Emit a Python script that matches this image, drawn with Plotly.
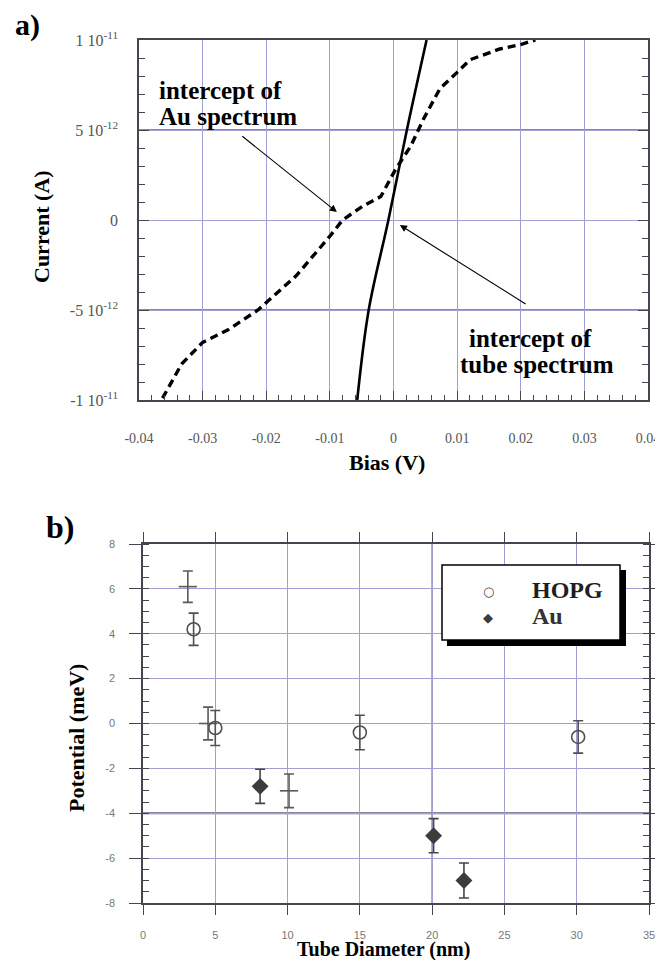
import plotly.graph_objects as go

# ---------------- Panel a data ----------------
tube_bias = [-0.0057, -0.0039, -0.0008, 0.0021, 0.0052]
tube_current = [-1.0e-11, -5.0e-12, 0.0, 5.0e-12, 1.0e-11]

au_bias = [-0.0363, -0.0333, -0.0300, -0.0260, -0.0213, -0.0153, -0.0100, -0.0080,
           -0.0047, -0.0020, 0.0003, 0.0027, 0.0047, 0.0073, 0.0100, 0.0120,
           0.0167, 0.0200, 0.0223]
au_current = [-9.9e-12, -8.0e-12, -6.8e-12, -6.1e-12, -5.0e-12, -3.1e-12, -0.9e-12, 0.0,
              0.8e-12, 1.3e-12, 2.8e-12, 4.1e-12, 5.6e-12, 7.3e-12, 8.2e-12, 8.9e-12,
              9.5e-12, 9.75e-12, 1.0e-11]

a_xticks = [-0.04, -0.03, -0.02, -0.01, 0, 0.01, 0.02, 0.03, 0.04]
a_xticktext = ["-0.04", "-0.03", "-0.02", "-0.01", "0", "0.01", "0.02", "0.03", "0.04"]
a_yticks = [-1e-11, -5e-12, 0, 5e-12, 1e-11]
a_yticktext = ["-1 10<sup>-11</sup>", "-5 10<sup>-12</sup>", "0", "5 10<sup>-12</sup>", "1 10<sup>-11</sup>"]

# ---------------- Panel b data ----------------
hopg_diam = [3.5, 5.0, 15.0, 30.1]
hopg_pot = [4.2, -0.2, -0.4, -0.6]
hopg_err = [0.72, 0.78, 0.77, 0.72]

au_diam = [8.1, 20.1, 22.2]
au_pot = [-2.8, -5.0, -7.0]
au_err = [0.76, 0.76, 0.78]

other_diam = [3.1, 4.5, 10.1]
other_pot = [6.1, 0.0, -3.0]
other_err = [0.70, 0.73, 0.75]

b_xticks = [0, 5, 10, 15, 20, 25, 30, 35]
b_yticks = [-8, -6, -4, -2, 0, 2, 4, 6, 8]
b_yticktext = ["-8", "-6", "-4", "-2", "0", "2", "4", "6", "8"]

legend_names = ["HOPG", "Au"]
legend_icons = ["○", "◆"]

# the page body has an 8px margin, so the figure is sized/offset to fit the window
OFF = 8
W, H = 647, 952
GRID = "rgb(160,160,212)"
DARKGRID = "rgb(95,95,130)"
FRAME = "rgb(70,70,80)"
SERIF = "Liberation Serif, Times New Roman, serif"
SANS = "Liberation Sans, Arial, sans-serif"

fig = go.Figure()

fig.add_trace(go.Scatter(x=au_bias, y=au_current, mode="lines", showlegend=False,
                         line=dict(color="black", width=3.4, dash="8px,5px"),
                         xaxis="x", yaxis="y"))
fig.add_trace(go.Scatter(x=tube_bias, y=tube_current, mode="lines", showlegend=False,
                         line=dict(color="black", width=2.6, shape="spline"),
                         xaxis="x", yaxis="y"))

fig.add_trace(go.Scatter(x=other_diam, y=other_pot, mode="markers", showlegend=False,
                         marker=dict(symbol="line-ew", size=13, color="rgb(90,90,90)",
                                     line=dict(color="rgb(90,90,90)", width=1.6)),
                         error_y=dict(type="data", array=other_err, color="rgb(90,90,90)",
                                      thickness=1.6, width=5),
                         xaxis="x2", yaxis="y2"))
fig.add_trace(go.Scatter(x=hopg_diam, y=hopg_pot, mode="markers", name="HOPG", showlegend=False,
                         marker=dict(symbol="circle-open", size=13, color="rgb(80,80,80)",
                                     line=dict(color="rgb(80,80,80)", width=1.6)),
                         error_y=dict(type="data", array=hopg_err, color="rgb(80,80,80)",
                                      thickness=1.6, width=5),
                         xaxis="x2", yaxis="y2"))
fig.add_trace(go.Scatter(x=au_diam, y=au_pot, mode="markers", name="Au", showlegend=False,
                         marker=dict(symbol="diamond", size=13, color="rgb(60,60,60)"),
                         error_y=dict(type="data", array=au_err, color="rgb(70,70,70)",
                                      thickness=1.6, width=5),
                         xaxis="x2", yaxis="y2"))

def px(v):
    return (v - OFF) / W

def py(v):
    return 1 - (v - OFF) / H

common_axis = dict(showline=True, linecolor=FRAME, linewidth=1.5, zeroline=False,
                   gridcolor=GRID, gridwidth=1, automargin=False, ticklabeloverflow="allow")

fig.update_layout(
    width=W, height=H, margin=dict(l=0, r=0, t=0, b=0, autoexpand=False),
    paper_bgcolor="white", plot_bgcolor="white", showlegend=False,
    xaxis=dict(domain=[px(139), px(648)], range=[-0.04, 0.04], anchor="y",
               tickvals=a_xticks, ticktext=a_xticktext, ticks="inside", ticklen=9,
               tickcolor=FRAME, mirror=True, ticklabelstandoff=24,
               tickfont=dict(family=SERIF, size=14, color="rgb(85,85,85)"),
               minor=dict(dtick=0.002, ticks="inside", ticklen=5, tickcolor=FRAME, showgrid=False),
               **common_axis),
    yaxis=dict(domain=[py(400), py(40)], range=[-1e-11, 1e-11], anchor="x",
               tickvals=a_yticks, ticktext=a_yticktext, ticks="inside", ticklen=10,
               tickcolor=FRAME, mirror="allticks", ticklabelstandoff=16,
               tickfont=dict(family=SERIF, size=16, color="rgb(85,85,85)"),
               minor=dict(dtick=1e-12, ticks="inside", ticklen=6, tickcolor=FRAME, showgrid=False),
               **common_axis),
    xaxis2=dict(domain=[px(143), px(649)], range=[0, 35], anchor="y2",
                tickvals=b_xticks, ticks="outside", ticklen=10, tickcolor=FRAME,
                mirror="allticks", ticklabelstandoff=11,
                tickfont=dict(family=SANS, size=11, color="rgb(120,120,120)"),
                **common_axis),
    yaxis2=dict(domain=[py(903), py(544)], range=[-8, 8], anchor="x2",
                tickvals=b_yticks, ticktext=b_yticktext, ticks="outside", ticklen=12,
                tickcolor=FRAME, mirror="allticks", ticklabelstandoff=12,
                tickfont=dict(family=SANS, size=11, color="rgb(120,120,120)"),
                minor=dict(dtick=0.5, ticks="inside", ticklen=6, tickcolor=FRAME, showgrid=False),
                **common_axis),
)

# darker reference grid lines
shapes = []
for yv in [5e-12, -5e-12]:
    shapes.append(dict(type="line", xref="x domain", yref="y", x0=0, x1=1, y0=yv, y1=yv,
                       line=dict(color=DARKGRID, width=1.6), layer="below"))
shapes.append(dict(type="line", xref="x2 domain", yref="y2", x0=0, x1=1, y0=-4, y1=-4,
                   line=dict(color=DARKGRID, width=1.8), layer="below"))
shapes.append(dict(type="line", xref="x2", yref="y2 domain", x0=20, x1=20, y0=0, y1=1,
                   line=dict(color="rgb(110,110,170)", width=1.4), layer="below"))
# legend box with shadow
shapes.append(dict(type="rect", xref="paper", yref="paper",
                   x0=px(447), x1=px(626), y0=py(646), y1=py(570),
                   fillcolor="black", line=dict(width=0), layer="above"))
shapes.append(dict(type="rect", xref="paper", yref="paper",
                   x0=px(442), x1=px(620), y0=py(640), y1=py(565),
                   fillcolor="white", line=dict(color="black", width=1.5), layer="above"))
fig.update_layout(shapes=shapes)

ann = []
def label(text, x, y, size, angle=0, xanchor="center", family=SERIF, color="black", bold=True):
    ann.append(dict(text=text, x=px(x), y=py(y), xref="paper", yref="paper",
                    showarrow=False, textangle=angle, xanchor=xanchor, yanchor="middle",
                    font=dict(family=family, size=size, color=color,
                              weight="bold" if bold else "normal")))

label("a)", 27, 25, 30)
label("Current (A)", 42, 227, 22, angle=-90)
label("Bias (V)", 387, 462, 22)
label("b)", 60, 527, 32)
label("Potential (meV)", 76, 738, 22, angle=-90)
label("Tube Diameter (nm)", 383, 949, 20)
label("intercept of", 157, 90, 25, xanchor="left")
label("Au spectrum", 157, 116, 25, xanchor="left")
label("intercept of", 530, 338, 25)
label("tube spectrum", 537, 364, 25)

# legend entries
label(legend_icons[0], 488, 591, 13, family="DejaVu Sans", color="rgb(70,70,70)", bold=False)
label(legend_icons[1], 488, 617, 13, family="DejaVu Sans", color="rgb(60,60,60)", bold=False)
label(legend_names[0], 530, 590, 24, xanchor="left", color="rgb(30,30,30)")
label(legend_names[1], 530, 616, 24, xanchor="left", color="rgb(50,50,50)")

# arrows (data coordinates of panel a)
ann.append(dict(x=-0.0089, y=0.44e-12, ax=-0.0240, ay=4.72e-12, xref="x", yref="y",
                axref="x", ayref="y", showarrow=True, arrowhead=2, arrowsize=1.3,
                arrowwidth=1.1, arrowcolor="black", text=""))
ann.append(dict(x=0.0010, y=-0.28e-12, ax=0.0210, ay=-4.72e-12, xref="x", yref="y",
                axref="x", ayref="y", showarrow=True, arrowhead=2, arrowsize=1.3,
                arrowwidth=1.1, arrowcolor="black", text=""))
fig.update_layout(annotations=ann)

fig.write_html("out.html")
